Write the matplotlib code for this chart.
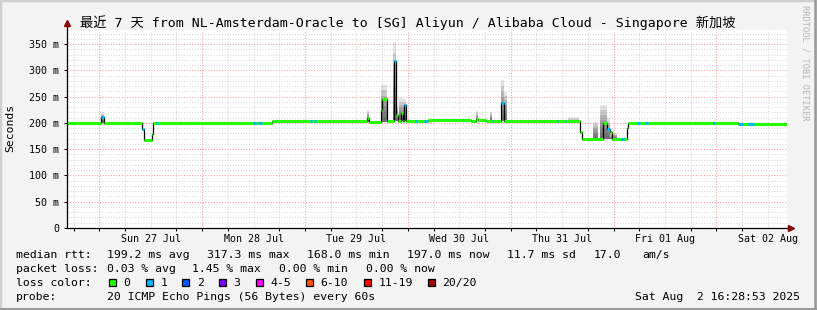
import numpy as np
import matplotlib
matplotlib.use('Agg')
import matplotlib.pyplot as plt
from matplotlib.patches import Rectangle

W, H = 817, 310
MONO = ['DejaVu Sans Mono', 'Noto Sans CJK SC']

# median rtt as steps: start hour (0 = Sat 26 Jul 16:28), value in ms, lost pings
med_start = [0.0, 7.9, 8.6, 17.5, 18.05, 19.77, 20.15, 47.8, 70.1, 70.5,
             73.2, 73.6, 74.7, 76.2, 76.7, 77.35, 77.9, 78.4, 78.7, 79.1,
             84.35, 94.3, 95.4, 95.95, 97.75, 101.3, 102.0, 119.6, 120.1, 125.1,
             126.1, 126.8, 127.1, 130.7, 130.9, 156.6]
med_ms = [200, 211, 200, 189, 168, 179, 200, 204, 210, 202,
          224, 245, 204, 318, 216, 203, 219, 203, 235, 204,
          206, 203, 208, 205, 203, 238, 203, 183, 169, 200,
          189, 182, 169, 190, 199.5, 197.5]
med_loss = [0, 1, 0, 1, 0, 0, 0, 0, 0, 0,
            0, 0, 0, 1, 0, 0, 0, 0, 1, 0,
            0, 0, 0, 0, 0, 1, 0, 0, 0, 0,
            1, 0, 0, 0, 0, 0]

# short stretches where one ping of 20 was lost
loss1_start = [20.8, 43.4, 44.6, 56.7, 57.7, 81.2, 83.3, 99.2, 114.3, 116.1,
               129.3, 133.1, 134.9, 150.8, 156.7, 158.8]
loss1_end = [21.2, 44.1, 45.5, 57.2, 58.1, 81.7, 84.1, 99.5, 114.6, 116.4,
             130.0, 133.8, 135.6, 151.3, 157.8, 160.2]

# smoke (spread of the 20 pings)
smoke_start = [7.9, 70.1, 73.3, 76.0, 76.7, 77.5, 78.5, 95.4, 98.8, 101.3,
               102.0, 117.0, 122.8, 124.4, 126.1, 126.8]
smoke_end = [8.6, 70.5, 74.7, 76.7, 77.35, 78.3, 79.1, 95.95, 99.2, 102.0,
             102.6, 119.4, 124.0, 126.1, 126.8, 128.4]
smoke_low = [200, 202, 202, 204, 204, 204, 204, 203, 203, 203,
             203, 203, 169, 169, 169, 169]
smoke_high = [220, 224, 272, 354, 232, 247, 246, 222, 221, 282,
              259, 211, 202, 234, 209, 181]

day_labels = ['Sun 27 Jul', 'Mon 28 Jul', 'Tue 29 Jul', 'Wed 30 Jul',
              'Thu 31 Jul', 'Fri 01 Aug', 'Sat 02 Aug']
first_midnight = 7.52
y_ticks = [0, 50, 100, 150, 200, 250, 300, 350]

loss_labels = ['0', '1', '2', '3', '4-5', '6-10', '11-19', '20/20']
loss_colors = ['#26ff00', '#00b8ff', '#0059ff', '#7e00ff', '#ff00ff',
               '#ff5500', '#ff0000', '#a10000']

title = '最近 7 天 from NL-Amsterdam-Oracle to [SG] Aliyun / Alibaba Cloud - Singapore 新加坡'
stats_rtt = [('199.2 ms avg', 107.3), ('317.3 ms max', 207.3), ('168.0 ms min', 307.3),
             ('197.0 ms now', 407.3), ('11.7 ms sd', 507.3), ('17.0', 593.3), ('am/s', 642.3)]
stats_loss = [('0.03 % avg', 107.3), ('1.45 % max', 192.0), ('0.00 % min', 279.3),
              ('0.00 % now', 365.7)]
probe_text = '20 ICMP Echo Pings (56 Bytes) every 60s'
stamp = 'Sat Aug  2 16:28:53 2025'


def fx(x):
    return x / W


def fy(y):
    return 1 - y / H


fig = plt.figure(figsize=(W / 100, H / 100), dpi=100, facecolor='#f3f3f3')

# bevel border
fig.patches.append(Rectangle((0, 0), 1, 1, transform=fig.transFigure, fill=False,
                             edgecolor='#cfcfcf', lw=2.5))
fig.add_artist(plt.Line2D([0, 1], [0.004, 0.004], transform=fig.transFigure, color='#9a9a9a', lw=2.2))
fig.add_artist(plt.Line2D([0.998, 0.998], [0, 1], transform=fig.transFigure, color='#9a9a9a', lw=1.8))

ax = fig.add_axes([fx(67), fy(228), fx(787) - fx(67), (228 - 30) / H])
ax.set_facecolor('white')
ax.set_xlim(0, 168)
ax.set_ylim(0, 377)
for s in ax.spines.values():
    s.set_visible(False)

# grid
for v in np.arange(10, 377, 10):
    major = v % 50 == 0
    ax.axhline(v, color='#f4a0a0' if major else '#d8d8d8', lw=0.75,
               ls=(0, (1, 1.6)), zorder=1)
for k in range(28):
    t = first_midnight - 6 + 6 * k
    if 0 < t < 168:
        major = k % 4 == 1
        ax.axvline(t, color='#f4a0a0' if major else '#d8d8d8', lw=0.75,
                   ls=(0, (1, 1.6)), zorder=1)

# smoke
for t0, t1, lo, hi in zip(smoke_start, smoke_end, smoke_low, smoke_high):
    n = 7
    a = 0.05 if hi - lo < 10 else 0.11
    for k in range(n):
        top = lo + (hi - lo) * (k + 1) / n
        ax.fill_between([t0, t1], lo, top, color='black', alpha=a, lw=0, zorder=2)

# median line
edges = med_start + [168]
ax.step(edges, med_ms + [med_ms[-1]], where='post', color='black', lw=0.9, zorder=3)
ax.hlines(med_ms, med_start, edges[1:], colors=[loss_colors[l] for l in med_loss],
          lw=2.2, zorder=4)
for t0, t1 in zip(loss1_start, loss1_end):
    i = np.searchsorted(med_start, t0, side='right') - 1
    ax.hlines(med_ms[i], t0, t1, colors=loss_colors[1], lw=2.2, zorder=5)

# axes lines with arrows
ax.plot([0, 0], [0, 1.035], transform=ax.transAxes, color='black', lw=0.9, clip_on=False, zorder=6)
ax.plot([0, 1.004], [0, 0], transform=ax.transAxes, color='black', lw=0.9, clip_on=False, zorder=6)
ax.plot([0], [1.035], transform=ax.transAxes, marker='^', ms=5, color='#8b0000',
        clip_on=False, zorder=7)
ax.plot([1.006], [0], transform=ax.transAxes, marker='>', ms=5, color='#8b0000',
        clip_on=False, zorder=7)

# ticks
ax.set_yticks(y_ticks)
ax.set_yticklabels(['0' if v == 0 else '%d m' % v for v in y_ticks])
ax.set_xticks([first_midnight + 12 + 24 * i for i in range(len(day_labels))])
ax.set_xticklabels(day_labels)
ax.set_xticks([first_midnight - 6 + 6 * k for k in range(28) if 0 < first_midnight - 6 + 6 * k < 168],
              minor=True)
ax.tick_params(axis='x', which='major', length=0, pad=4.3, labelsize=7.2)
ax.tick_params(axis='x', which='minor', length=2, width=0.7, direction='out')
ax.tick_params(axis='y', which='major', length=2, width=0.7, pad=3.8, labelsize=7.2)
for lab in ax.get_xticklabels() + ax.get_yticklabels():
    lab.set_family(MONO)

# texts
fig.text(fx(408), fy(26.5), title, ha='center', va='baseline', fontsize=9.5, family=MONO)
fig.text(fx(10), fy(128), 'Seconds', rotation=90, ha='center', va='center',
         fontsize=8.2, family=MONO)
fig.text(fx(805), fy(5), 'RRDTOOL / TOBI OETIKER', rotation=-90, ha='center', va='top',
         fontsize=6.2, color='#b4b4b4', family=MONO)

fs = 8.25
fig.text(fx(16), fy(258), 'median rtt:', fontsize=fs, family=MONO, va='baseline')
for s, x in stats_rtt:
    fig.text(fx(x), fy(258), s, fontsize=fs, family=MONO, va='baseline')
fig.text(fx(16), fy(272), 'packet loss:', fontsize=fs, family=MONO, va='baseline')
for s, x in stats_loss:
    fig.text(fx(x), fy(272), s, fontsize=fs, family=MONO, va='baseline')
fig.text(fx(16), fy(286), 'loss color:', fontsize=fs, family=MONO, va='baseline')
x = 109.0
for lab, col in zip(loss_labels, loss_colors):
    fig.patches.append(Rectangle((fx(x), fy(285.5)), 7 / W, 7 / H, transform=fig.transFigure,
                                 facecolor=col, edgecolor='black', lw=0.9))
    fig.text(fx(x + 14.5), fy(286), lab, fontsize=fs, family=MONO, va='baseline')
    x += 14.5 + 6.95 * len(lab) + 15.2
fig.text(fx(16), fy(300), 'probe:', fontsize=fs, family=MONO, va='baseline')
fig.text(fx(107.3), fy(300), probe_text, fontsize=fs, family=MONO, va='baseline')
fig.text(fx(800), fy(300), stamp, fontsize=fs, family=MONO, va='baseline', ha='right')

fig.savefig('out.png', dpi=100, facecolor=fig.get_facecolor())
